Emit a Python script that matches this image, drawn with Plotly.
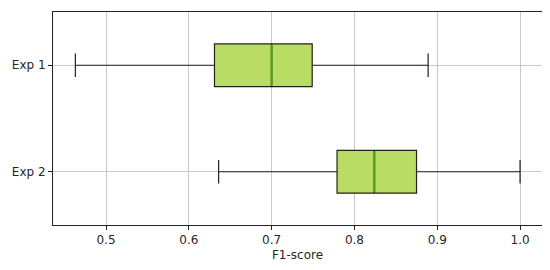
import plotly.graph_objects as go

experiments = ["Exp 1", "Exp 2"]
positions = [2, 1]
lower_whisker = [0.463, 0.636]
q1 = [0.631, 0.779]
median = [0.700, 0.824]
q3 = [0.749, 0.875]
upper_whisker = [0.889, 1.000]

box_width = 0.4

fig = go.Figure()
fig.add_trace(go.Box(
    orientation="h",
    y=positions,
    q1=q1, median=median, q3=q3,
    lowerfence=lower_whisker, upperfence=upper_whisker,
    width=box_width,
    whiskerwidth=0.55,
    fillcolor="#b8dc64",
    line=dict(color="#1e2418", width=1.2),
    showlegend=False,
    hoverinfo="skip",
))

# median lines drawn in green on top of the boxes
for pos, m in zip(positions, median):
    fig.add_trace(go.Scatter(
        x=[m, m], y=[pos - box_width / 2 + 0.01, pos + box_width / 2 - 0.01],
        mode="lines", line=dict(color="#5c9c1e", width=2.5),
        showlegend=False, hoverinfo="skip",
    ))

# page body adds an 8px offset, so the figure is a bit smaller than the window
fig.update_layout(
    width=534, height=254,
    margin=dict(l=45, r=0, t=4, b=37),
    paper_bgcolor="white", plot_bgcolor="white",
    font=dict(family="DejaVu Sans", size=12, color="#262626"),
)
fig.update_xaxes(
    range=[0.436, 1.0265],
    tickvals=[0.5, 0.6, 0.7, 0.8, 0.9, 1.0], tickformat=".1f",
    showgrid=True, gridcolor="#c8c8c8", gridwidth=1,
    showline=True, linecolor="#222", linewidth=1, mirror=True,
    ticks="outside", ticklen=4, tickcolor="#222",
    title=dict(text="F1-score", standoff=6, font=dict(size=12)),
    zeroline=False,
)
fig.update_yaxes(
    range=[0.5, 2.5],
    tickvals=positions, ticktext=experiments,
    showgrid=True, gridcolor="#c8c8c8", gridwidth=1,
    showline=True, linecolor="#222", linewidth=1, mirror=True,
    ticks="outside", ticklen=4, tickcolor="#222",
    zeroline=False,
)

fig.write_html("out.html")
